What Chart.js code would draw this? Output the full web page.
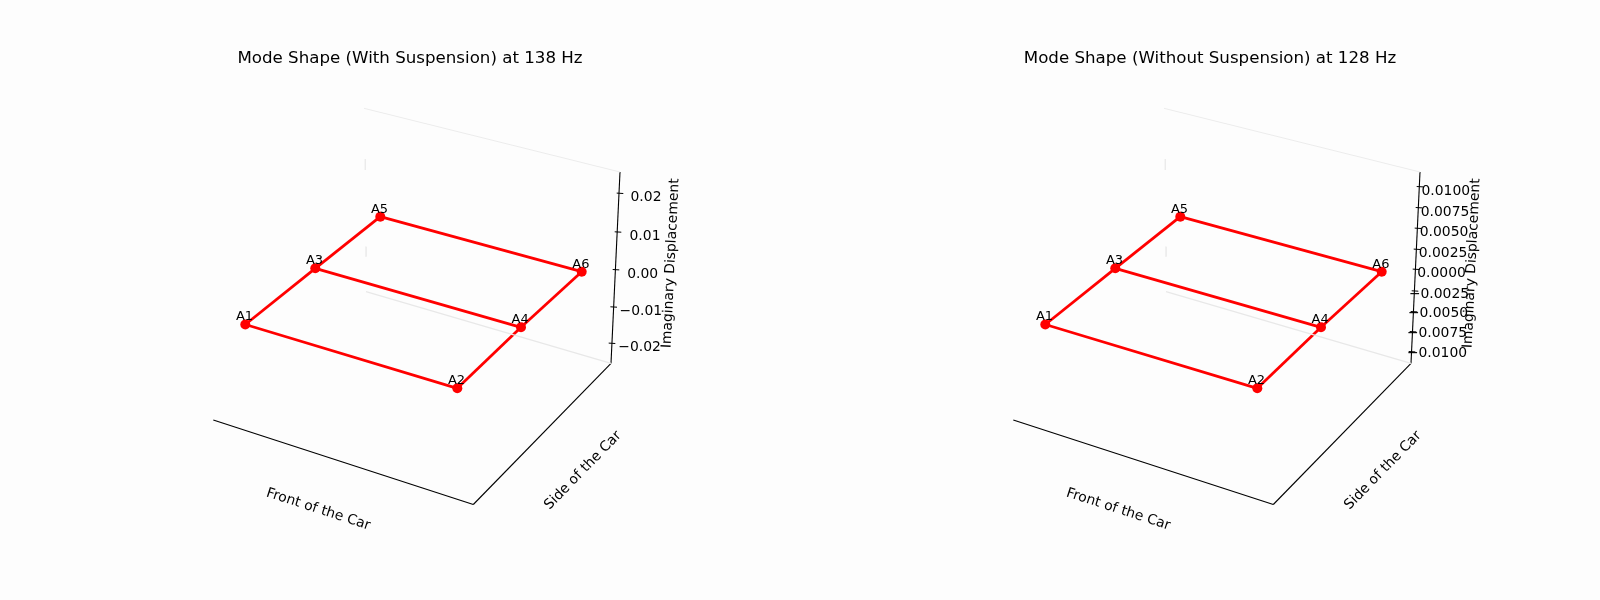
<!DOCTYPE html>
<html><head><meta charset="utf-8">
<script src="https://cdn.jsdelivr.net/npm/chart.js@4"></script>
<style>
html,body{margin:0;padding:0;background:#fdfdfd;width:1600px;height:600px;overflow:hidden}
.p{position:absolute;top:0;width:780px;height:600px}
canvas{display:block}
</style></head><body>
<div class="p" style="left:20px"><canvas id="c1" width="780" height="600"></canvas></div>
<div class="p" style="left:820px"><canvas id="c2" width="780" height="600"></canvas></div>
<script>
const FONT = '"DejaVu Sans"';
const nodeNames = ['A1','A2','A3','A4','A5','A6'];
const nodeX = [245.3,457.3,315.3,521.0,380.3,581.7];
const nodeY = [324.5,388.3,268.3,327.3,216.7,271.7];
const edges = [[0,2],[2,4],[1,3],[3,5],[0,1],[2,3],[4,5]];

const frontAxisX = [213.3,473.3];
const frontAxisY = [420,504.5];
const sideAxisX = [473.3,611];
const sideAxisY = [504.5,363.3];
const vertAxisX = [611,620];
const vertAxisY = [363.3,172];
const paneBottomX = [611,366];
const paneBottomY = [363.3,291.7];
const paneTopX = [620,364];
const paneTopY = [172,108.3];
const paneEdgeAX = [365.3,365.3];
const paneEdgeAY = [159,170];
const paneEdgeBX = [366,366];
const paneEdgeBY = [246.7,256.7];

const titleLeft = 'Mode Shape (With Suspension) at 138 Hz';
const titleRight = 'Mode Shape (Without Suspension) at 128 Hz';
const frontLabel = 'Front of the Car';
const sideLabel = 'Side of the Car';
const vertLabel = 'Imaginary Displacement';

const ticksLeft = ['0.02','0.01','0.00','\u22120.01','\u22120.02'];
const tickXLeft = [620,618,616,613.7,612];
const tickYLeft = [193.3,232,269.7,307,343.3];
const tickLabelXLeft = [646,645,642.6,640.8,639.6];
const tickLabelYLeft = [197.5,236.5,274.2,311.5,347.5];

const ticksRight = ['0.0100','0.0075','0.0050','0.0025','0.0000','\u22120.0025','\u22120.0050','\u22120.0075','\u22120.0100'];
const tickXRight = [620,619,618,617,616,615,614,613,612];
const tickYRight = [186.7,207.7,228.3,249.3,269.3,291,311.7,331.7,351.7];
const tickLabelXRight = [645.8,645,644,643,641.5,639,638,637,637];
const tickLabelYRight = [191.7,212,232.7,253.3,273.7,294.3,313.7,333.7,353];

const vertLabelLeft = [671,263.3];
const vertLabelRight = [672,263.3];

function line(xs,ys,color,width){
  return {type:'scatter',showLine:true,pointRadius:0,borderColor:color,borderWidth:width,
    data:xs.map((x,i)=>({x,y:ys[i]}))};
}
const textPlugin = {
  id:'texts',
  afterDatasetsDraw(chart,_,o){
    const {ctx,scales:{x,y}} = chart;
    const put=(s,px,py,size,rot)=>{
      ctx.save();
      ctx.translate(x.getPixelForValue(px),y.getPixelForValue(py));
      if(rot) ctx.rotate(rot*Math.PI/180);
      ctx.font=size+'px '+FONT;ctx.fillStyle='#000';ctx.textAlign='center';ctx.textBaseline='middle';
      ctx.fillText(s,0,0);ctx.restore();
    };
    nodeNames.forEach((n,i)=>put(n,nodeX[i]-0.8,nodeY[i]-7.5,13,0));
    o.ticks.forEach((t,i)=>put(t,o.lx[i],o.ly[i],13.9,0));
    put(frontLabel,318.3,509.5,13.9,18);
    put(sideLabel,583,470.5,13.9,-45.8);
    put(vertLabel,o.vl[0],o.vl[1],13.9,-87.3);
  }
};
function panel(id,title,ticks,tx,ty,lx,ly,vl){
  const ds=[];
  ds.push(line(paneBottomX,paneBottomY,'#e8e8e8',1.3));
  ds.push(line(paneTopX,paneTopY,'#ececec',1));
  ds.push(line(paneEdgeAX,paneEdgeAY,'#ececec',1));
  ds.push(line(paneEdgeBX,paneEdgeBY,'#ececec',1));
  ds.push(line(frontAxisX,frontAxisY,'#000',1.1));
  ds.push(line(sideAxisX,sideAxisY,'#000',1.1));
  ds.push(line(vertAxisX,vertAxisY,'#000',1.1));
  tx.forEach((v,i)=>ds.push(line([v-3.3,v+3.3],[ty[i]-0.2,ty[i]+0.2],'#000',1)));
  edges.forEach(([a,b])=>ds.push(line([nodeX[a],nodeX[b]],[nodeY[a],nodeY[b]],'#ff0000',2.8)));
  ds.push({type:'scatter',pointRadius:5,pointBackgroundColor:'#ff0000',pointBorderWidth:0,
    data:nodeX.map((x,i)=>({x,y:nodeY[i]}))});
  return new Chart(document.getElementById(id),{
    type:'scatter',
    data:{datasets:ds},
    plugins:[textPlugin],
    options:{
      responsive:false,animation:false,devicePixelRatio:1,
      layout:{padding:0,autoPadding:false},
      scales:{
        x:{type:'linear',display:false,min:20,max:800},
        y:{type:'linear',display:false,min:69,max:600,reverse:true}
      },
      plugins:{
        legend:{display:false},tooltip:{enabled:false},
        title:{display:true,text:title,color:'#000',font:{family:FONT,size:16.67,weight:'normal',lineHeight:1.2},padding:{top:49,bottom:0}},
        texts:{ticks,lx,ly,vl}
      }
    }
  });
}
panel('c1',titleLeft,ticksLeft,tickXLeft,tickYLeft,tickLabelXLeft,tickLabelYLeft,vertLabelLeft);
panel('c2',titleRight,ticksRight,tickXRight,tickYRight,tickLabelXRight,tickLabelYRight,vertLabelRight);
</script>
</body></html>
